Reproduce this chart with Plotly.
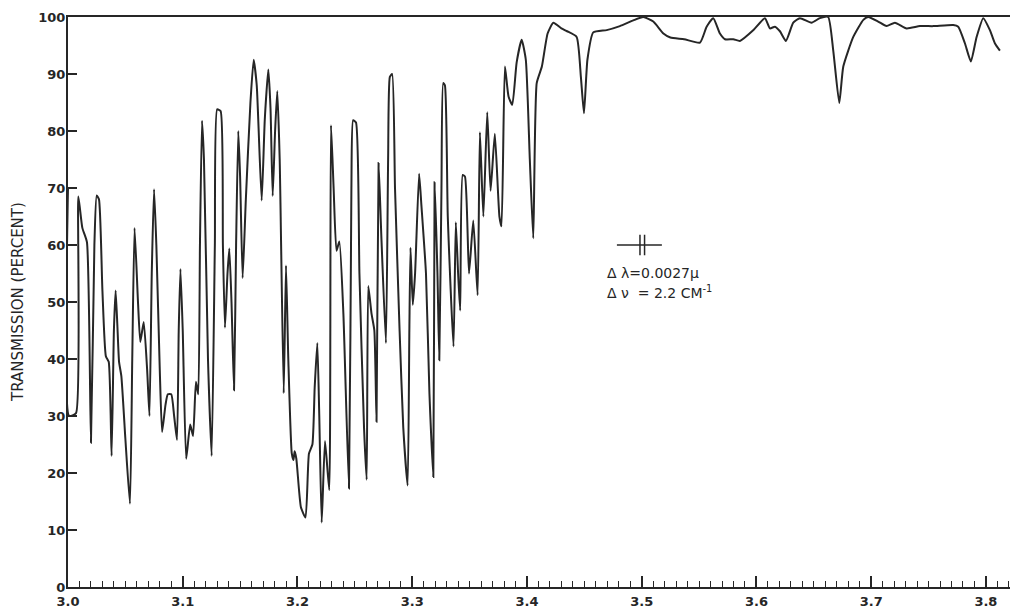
import plotly.graph_objects as go

# Wavelength (microns) and transmission (%)
wavelength = [
    3.0000, 3.0010, 3.0070, 3.0090, 3.0125, 3.0165, 3.0200, 3.0230, 3.0250, 3.0270,
    3.0300, 3.0330, 3.0355, 3.0380, 3.0400, 3.0415, 3.0430, 3.0445, 3.0465, 3.0500,
    3.0540, 3.0560, 3.0580, 3.0610, 3.0630, 3.0660, 3.0690, 3.0710, 3.0730, 3.0750,
    3.0770, 3.0800, 3.0820, 3.0850, 3.0870, 3.0900, 3.0925, 3.0950, 3.0965, 3.0980,
    3.1000, 3.1030, 3.1065, 3.1090, 3.1115, 3.1135, 3.1150, 3.1168, 3.1185, 3.1220,
    3.1252, 3.1280, 3.1300, 3.1330, 3.1350, 3.1368, 3.1390, 3.1406, 3.1425, 3.1447,
    3.1465, 3.1484, 3.1500, 3.1522, 3.1550, 3.1590, 3.1618, 3.1645, 3.1688, 3.1715,
    3.1746, 3.1765, 3.1784, 3.1805, 3.1824, 3.1845, 3.1880, 3.1900, 3.1920, 3.1950,
    3.1965, 3.1975, 3.1990, 3.2030, 3.2070, 3.2100, 3.2130, 3.2150, 3.2173, 3.2190,
    3.2211, 3.2240, 3.2277, 3.2292, 3.2315, 3.2340, 3.2365, 3.2400, 3.2449, 3.2470,
    3.2485, 3.2510, 3.2540, 3.2580, 3.2603, 3.2617, 3.2645, 3.2670, 3.2689, 3.2707,
    3.2730, 3.2771, 3.2790, 3.2805, 3.2825, 3.2850, 3.2890, 3.2922, 3.2960, 3.2975,
    3.2985, 3.3005, 3.3025, 3.3060, 3.3080, 3.3120, 3.3150, 3.3184, 3.3195, 3.3220,
    3.3236, 3.3255, 3.3270, 3.3285, 3.3310, 3.3360, 3.3380, 3.3400, 3.3418, 3.3440,
    3.3460, 3.3495, 3.3532, 3.3570, 3.3590, 3.3620, 3.3654, 3.3683, 3.3720, 3.3760,
    3.3778, 3.3808, 3.3840, 3.3872, 3.3910, 3.3954, 3.3990, 3.4025, 3.4055, 3.4085,
    3.4130, 3.4180, 3.4230, 3.4300, 3.4350, 3.4433, 3.4470, 3.4497, 3.4527, 3.4578,
    3.4695, 3.4810, 3.4927, 3.5014, 3.5101, 3.5189, 3.5250, 3.5370, 3.5508, 3.5566,
    3.5624, 3.5682, 3.5726, 3.5799, 3.5856, 3.5974, 3.6074, 3.6118, 3.6161, 3.6205,
    3.6257, 3.6321, 3.6379, 3.6480, 3.6553, 3.6625, 3.6669, 3.6722, 3.6757, 3.6844,
    3.6932, 3.6974, 3.7061, 3.7134, 3.7207, 3.7309, 3.7425, 3.7541, 3.7715, 3.7759,
    3.7817, 3.7869, 3.7919, 3.7977, 3.8035, 3.8078, 3.8122,
]
transmission = [
    70.0, 30.0, 30.5, 68.5, 63.0, 60.5, 25.3, 60.0, 68.7, 68.0,
    52.0, 40.5, 39.5, 23.0, 45.0, 52.0, 46.0, 39.5, 37.0, 26.0,
    14.6, 40.0, 63.0, 50.0, 43.0, 46.5, 38.0, 30.0, 55.0, 69.8,
    60.0, 38.0, 27.2, 32.0, 33.8, 33.8, 30.0, 25.8, 45.0, 55.8,
    45.0, 22.5, 28.5, 26.5, 36.0, 33.8, 60.0, 81.8, 75.0, 40.0,
    23.0, 60.0, 83.8, 83.5, 60.0, 45.5, 55.0, 59.4, 50.0, 34.5,
    60.0, 80.0, 72.0, 54.2, 68.0, 85.0, 92.5, 88.0, 67.8, 82.0,
    90.8, 84.0, 68.6, 80.0, 87.0, 75.0, 34.0, 56.4, 40.0, 23.5,
    22.3, 23.8, 22.5, 14.0, 12.2, 23.4, 25.0, 35.0, 42.8, 30.0,
    11.3, 25.6, 17.0, 81.0, 70.0, 59.0, 60.6, 48.0, 17.3, 70.0,
    81.9, 81.5, 55.0, 28.0, 18.8, 52.8, 48.0, 45.0, 29.0, 74.4,
    62.0, 42.8, 75.0, 89.5, 90.0, 70.0, 45.0, 28.0, 17.8, 45.0,
    59.5, 49.5, 55.0, 72.5, 67.0, 55.0, 34.0, 19.3, 71.0, 55.0,
    39.8, 70.0, 88.4, 88.0, 65.0, 42.2, 64.0, 55.0, 48.5, 72.3,
    72.0, 55.0, 64.3, 51.2, 79.8, 65.0, 83.3, 69.5, 79.5, 65.0,
    63.3, 91.3, 86.0, 84.6, 92.0, 96.0, 92.5, 75.0, 61.2, 88.4,
    91.3, 97.1, 99.0, 98.0, 97.5, 96.5, 89.5, 83.1, 92.5, 97.3,
    97.7, 98.4, 99.4, 100.0, 99.2, 97.1, 96.4, 96.1, 95.5, 98.3,
    99.8, 97.1, 96.1, 96.1, 95.8, 97.7, 99.8, 98.0, 98.3, 97.5,
    95.8, 99.0, 99.8, 99.0, 99.8, 100.0, 94.2, 84.9, 91.3, 96.5,
    99.5, 100.0, 99.2, 98.4, 99.0, 98.0, 98.4, 98.4, 98.6, 98.3,
    95.4, 92.2, 96.5, 99.8, 97.7, 95.4, 94.1,
]

x_tick_vals = [3.0, 3.1, 3.2, 3.3, 3.4, 3.5, 3.6, 3.7, 3.8]
x_tick_text = ["3.0", "3.1", "3.2", "3.3", "3.4", "3.5", "3.6", "3.7", "3.8"]
y_tick_vals = [0, 10, 20, 30, 40, 50, 60, 70, 80, 90, 100]
y_tick_text = ["0", "10", "20", "30", "40", "50", "60", "70", "80", "90", "100"]

ink = "#262626"
tick_font = dict(family="DejaVu Sans", size=13, color=ink, weight="bold")

fig = go.Figure()
fig.add_trace(go.Scatter(
    x=wavelength, y=transmission, mode="lines",
    line=dict(color=ink, width=2, shape="spline", smoothing=0.5),
    showlegend=False, hoverinfo="skip",
))

# the page body has an 8px margin, so the figure is sized/offset to compensate
fig.update_layout(
    width=1020, height=605,
    margin=dict(l=60, r=18, t=9, b=26, autoexpand=False),
    paper_bgcolor="white", plot_bgcolor="white",
    showlegend=False,
    xaxis=dict(
        range=[3.0, 3.821], tickmode="array", tickvals=x_tick_vals, ticktext=x_tick_text,
        ticks="inside", ticklen=11, tickwidth=1.5, tickcolor=ink,
        minor=dict(dtick=0.01, tick0=3.0, ticks="inside", ticklen=6, tickwidth=1.2, tickcolor=ink),
        showline=True, linecolor=ink, linewidth=2, mirror=True,
        showgrid=False, zeroline=False, automargin=False,
        tickfont=tick_font, ticklabelstandoff=1,
    ),
    yaxis=dict(
        range=[0, 100], tickmode="array", tickvals=y_tick_vals, ticktext=y_tick_text,
        ticks="inside", ticklen=9, tickwidth=1.5, tickcolor=ink,
        showline=True, linecolor=ink, linewidth=2,
        showgrid=False, zeroline=False, automargin=False,
        tickfont=tick_font, ticklabelstandoff=-2,
    ),
)

# y-axis title
fig.add_annotation(x=0, y=0.5, xref="paper", yref="paper", xshift=-50,
                   text="TRANSMISSION (PERCENT)", textangle=-90, showarrow=False,
                   xanchor="center", yanchor="middle",
                   font=dict(family="DejaVu Sans", size=15, color=ink))

# resolution (slit width) marker
fig.add_shape(type="line", x0=3.4784, x1=3.5176, y0=60.0, y1=60.0, line=dict(color=ink, width=1.5))
fig.add_shape(type="line", x0=3.4985, x1=3.4985, y0=61.8, y1=58.2, line=dict(color=ink, width=1.5))
fig.add_shape(type="line", x0=3.5025, x1=3.5025, y0=61.8, y1=58.2, line=dict(color=ink, width=1.5))

fig.add_annotation(x=3.468, y=55.1, xref="x", yref="y", text="Δ λ=0.0027μ",
                   showarrow=False, xanchor="left", yanchor="middle",
                   font=dict(family="DejaVu Sans", size=14, color=ink))
fig.add_annotation(x=3.468, y=51.8, xref="x", yref="y", text="Δ ν  = 2.2 CM<sup>-1</sup>",
                   showarrow=False, xanchor="left", yanchor="middle",
                   font=dict(family="DejaVu Sans", size=14, color=ink))

fig.write_html("out.html")
